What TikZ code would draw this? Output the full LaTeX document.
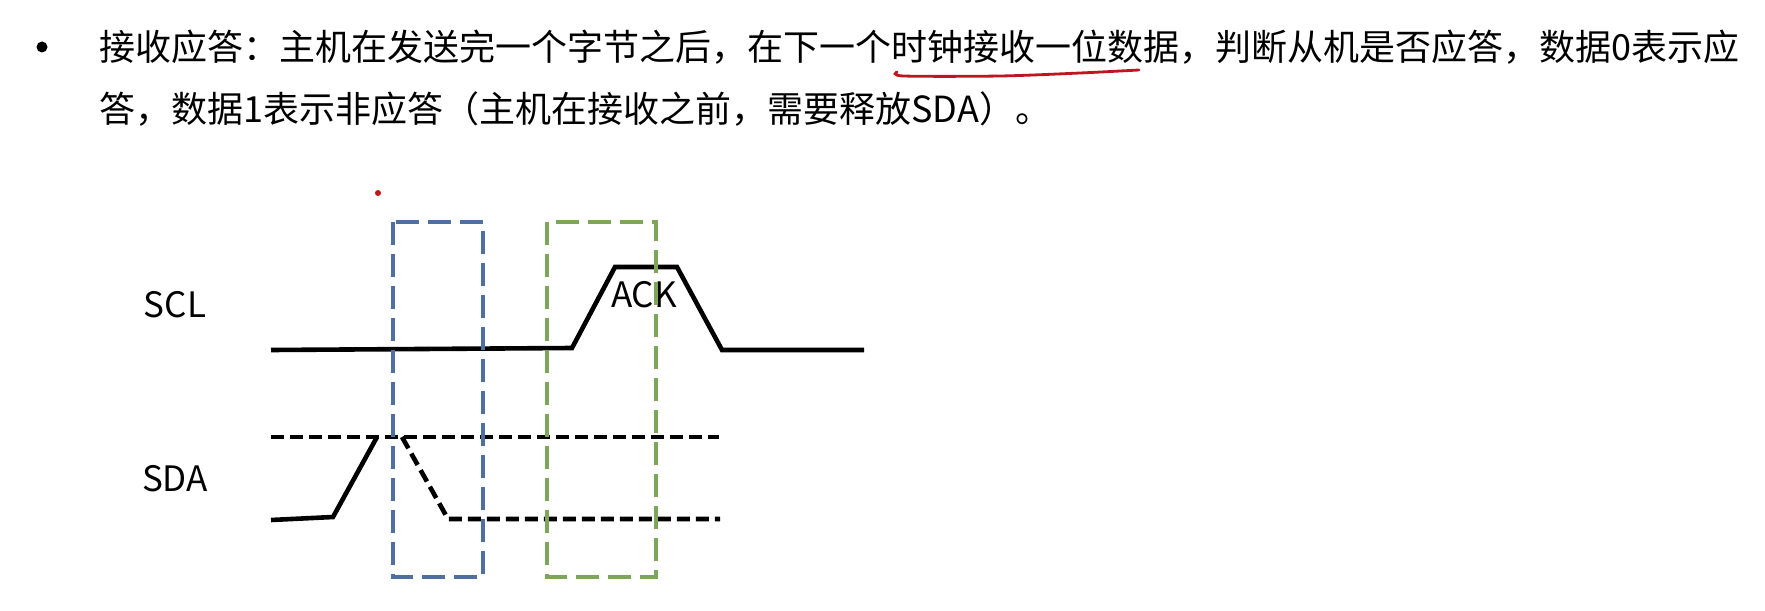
\documentclass[tikz,border=0pt]{standalone}
\usepackage{fontspec}
\newfontfamily\cjk{Noto Sans CJK SC}
\definecolor{boxblue}{HTML}{4F6FA0}
\definecolor{boxgreen}{HTML}{7DA65A}
\definecolor{penred}{HTML}{C0141E}
\begin{document}
\begin{tikzpicture}[x=0.5pt,y=-0.5pt,
  txt/.style={font=\cjk\fontsize{18pt}{22pt}\selectfont, inner sep=0pt, anchor=west},
  lbl/.style={font=\cjk\fontsize{17.5pt}{21pt}\selectfont, inner sep=0pt},
  wave/.style={line width=2.3pt, line join=miter},
  dwave/.style={line width=2.3pt, dash pattern=on 6.5pt off 3pt},
  win/.style={line width=1.6pt, dash pattern=on 11.5pt off 4.5pt}]
\useasboundingbox (0,0) rectangle (1765,610);
% heading text
\node[circle, fill=black, inner sep=0pt, minimum size=5.5pt] (bullet) at (42,47) {};
\node[txt] (l1) at (99,47) {接收应答：主机在发送完一个字节之后，在下一个时钟接收一位数据，判断从机是否应答，数据0表示应};
\node[txt] (l2) at (99,109) {答，数据1表示非应答（主机在接收之前，需要释放SDA）。};
\draw[penred, line width=1.4pt, line cap=round] plot[smooth] coordinates {(897,72) (904,76) (1000,76) (1080,73) (1139,70)};
\node[circle, fill=penred, inner sep=0pt, minimum size=3pt] (dot) at (378,193) {};
% labels
\node[lbl] (scl) at (175,305) {SCL};
\node[lbl] (sda) at (175,479) {SDA};
\node[lbl] (ack) at (644,295) {ACK};
% SCL waveform
\draw[wave] (271,350) -- (572,348) -- (615,267) -- (677,267) -- (722,350) -- (864,350);
% SDA waveform
\draw[wave] (271,520) -- (333,517) -- (377,437);
\draw[dwave] (271,437) -- (719,437);
\draw[dwave] (402,437) -- (448,519) -- (720,519);
% windows
\draw[win, boxblue] (393,222) rectangle (483,577);
\draw[win, boxgreen] (547,222) rectangle (656,577);
\end{tikzpicture}
\end{document}
